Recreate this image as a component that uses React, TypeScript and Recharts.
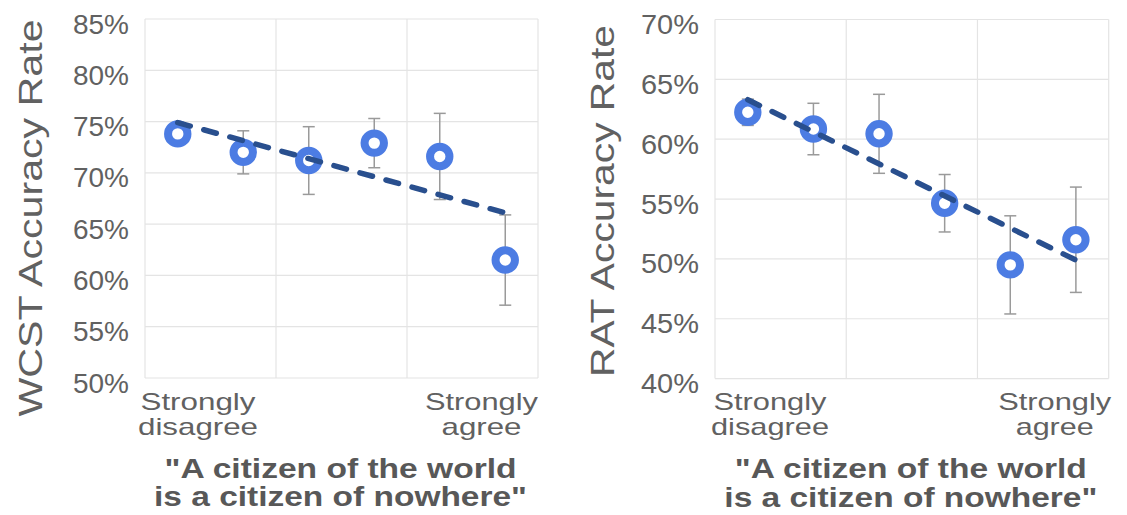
import React from "react";
import {
  ComposedChart,
  Scatter,
  XAxis,
  YAxis,
  CartesianGrid,
  ErrorBar,
  Label,
} from "recharts";

// six agreement levels, plotted at the middle of each sixth of the axis
const levelPos = [0.5, 1.5, 2.5, 3.5, 4.5, 5.5];
const xGridTicks = [0, 2, 4, 6];
const xEndLabels = [
  ["Strongly", "disagree"],
  ["Strongly", "agree"],
];
const xTitle = ['"A citizen of the world', 'is a citizen of nowhere"'];

const wcstMean = [73.8, 72.0, 71.2, 72.9, 71.6, 61.5];
const wcstErr = [0.3, 2.1, 3.3, 2.4, 4.2, 4.4];
const wcstTrendX = [0.5, 5.5];
const wcstTrend = [74.9, 66.1];
const wcstTicks = [50, 55, 60, 65, 70, 75, 80, 85];

const ratMean = [62.25, 60.85, 60.45, 54.65, 49.5, 51.6];
const ratErr = [1.1, 2.15, 3.3, 2.4, 4.1, 4.4];
const ratTrendX = [0.5, 5.5];
const ratTrend = [63.3, 49.9];
const ratTicks = [40, 45, 50, 55, 60, 65, 70];

const FONT = '"Liberation Sans", Arial, sans-serif';
const TEXT = "#616161";
const RING = "#4C7CE3";
const TREND = "#294F8E";

const Ring = (props: any) => (
  <circle cx={props.cx} cy={props.cy} r={9.7} fill="#fff" stroke={RING} strokeWidth={8} />
);

const NoDot = () => <g />;

interface PanelProps {
  width: number;
  margin: { top: number; right: number; bottom: number; left: number };
  yAxisWidth: number;
  xAxisHeight: number;
  ticks: number[];
  mean: number[];
  err: number[];
  trendX: number[];
  trend: number[];
  yTitle: string;
  yTitleX: number;
  yTitleY: number;
  yTitleLen: number;
  tickLen: number;
  labelOffsets: [number, number];
  labelLens: number[][];
}

function Panel(p: PanelProps) {
  const points = levelPos.map((x, i) => ({ x, y: p.mean[i], err: p.err[i] }));
  const trendPts = p.trendX.map((x, i) => ({ x, y: p.trend[i] }));

  const YTick = ({ x, y, payload }: any) => (
    <text
      x={x}
      y={y + 14.5}
      textAnchor="end"
      fontSize={27}
      fontFamily={FONT}
      fill={TEXT}
      textLength={p.tickLen}
      lengthAdjust="spacingAndGlyphs"
    >
      {payload.value}%
    </text>
  );

  const XTick = ({ x, y, payload }: any) => {
    const idx = payload.value === 0 ? 0 : payload.value === 6 ? 1 : -1;
    if (idx < 0) return <g />;
    const cx = x + p.labelOffsets[idx];
    return (
      <g>
        {xEndLabels[idx].map((t, j) => (
          <text
            key={j}
            x={cx}
            y={y + 31.5 + j * 25}
            textAnchor="middle"
            fontSize={24}
            fontFamily={FONT}
            fill={TEXT}
            textLength={p.labelLens[idx][j]}
            lengthAdjust="spacingAndGlyphs"
          >
            {t}
          </text>
        ))}
      </g>
    );
  };

  const XTitle = ({ viewBox }: any) => {
    const cx = viewBox.x + viewBox.width / 2 - 1;
    return (
      <g>
        {xTitle.map((t, j) => (
          <text
            key={j}
            x={cx}
            y={viewBox.y + 99.5 + j * 28.5}
            textAnchor="middle"
            fontSize={28}
            fontWeight="bold"
            fontFamily={FONT}
            fill="#585858"
            textLength={j === 0 ? 352 : 373}
            lengthAdjust="spacingAndGlyphs"
          >
            {t}
          </text>
        ))}
      </g>
    );
  };

  const YTitle = () => (
    <text
      x={p.yTitleX}
      y={p.yTitleY}
      transform={`rotate(-90, ${p.yTitleX}, ${p.yTitleY})`}
      textAnchor="middle"
      fontSize={34}
      fontFamily={FONT}
      fill={TEXT}
      textLength={p.yTitleLen}
      lengthAdjust="spacingAndGlyphs"
    >
      {p.yTitle}
    </text>
  );

  return (
    <ComposedChart width={p.width} height={515} margin={p.margin}>
      <CartesianGrid stroke="#e4e4e4" strokeWidth={1.2} />
      <XAxis
        type="number"
        dataKey="x"
        domain={[0, 6]}
        ticks={xGridTicks}
        interval={0}
        axisLine={false}
        tickLine={false}
        tickSize={0}
        tickMargin={0}
        height={p.xAxisHeight}
        tick={<XTick />}
      >
        <Label content={<XTitle />} />
      </XAxis>
      <YAxis
        type="number"
        dataKey="y"
        domain={[p.ticks[0], p.ticks[p.ticks.length - 1]]}
        ticks={p.ticks}
        interval={0}
        axisLine={false}
        tickLine={false}
        tickSize={0}
        tickMargin={16}
        width={p.yAxisWidth}
        tick={<YTick />}
      >
        <Label content={<YTitle />} />
      </YAxis>
      <Scatter data={points} shape={<Ring />} isAnimationActive={false}>
        <ErrorBar dataKey="err" direction="y" width={6} stroke="#9a9a9a" strokeWidth={1.5} />
      </Scatter>
      <Scatter
        data={trendPts}
        shape={<NoDot />}
        line={{ stroke: TREND, strokeWidth: 5.5, strokeDasharray: "13 14", strokeLinecap: "round" }}
        isAnimationActive={false}
      />
    </ComposedChart>
  );
}

export default function App() {
  return (
    <div
      style={{
        position: "absolute",
        left: 0,
        top: 0,
        width: 1127,
        height: 515,
        background: "#fff",
        display: "flex",
      }}
    >
      <Panel
        width={563}
        margin={{ top: 19, right: 25, bottom: 0, left: 0 }}
        yAxisWidth={145}
        xAxisHeight={137}
        ticks={wcstTicks}
        mean={wcstMean}
        err={wcstErr}
        trendX={wcstTrendX}
        trend={wcstTrend}
        yTitle="WCST Accuracy Rate"
        yTitleX={42}
        yTitleY={218}
        yTitleLen={397}
        tickLen={56}
        labelOffsets={[53, -56.5]}
        labelLens={[
          [115, 120],
          [113, 80],
        ]}
      />
      <Panel
        width={564}
        margin={{ top: 19.5, right: 18.3, bottom: 0, left: 0 }}
        yAxisWidth={152}
        xAxisHeight={136.4}
        ticks={ratTicks}
        mean={ratMean}
        err={ratErr}
        trendX={ratTrendX}
        trend={ratTrend}
        yTitle="RAT Accuracy Rate"
        yTitleX={50.5}
        yTitleY={201}
        yTitleLen={352}
        tickLen={58}
        labelOffsets={[55, -54]}
        labelLens={[
          [113, 118],
          [113, 78],
        ]}
      />
    </div>
  );
}
